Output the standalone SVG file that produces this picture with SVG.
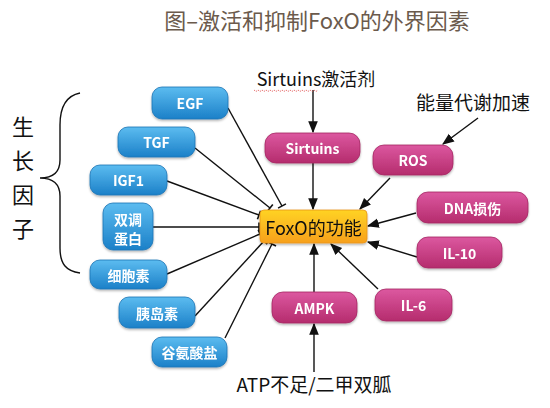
<svg xmlns="http://www.w3.org/2000/svg" width="550" height="408" viewBox="0 0 550 408">
<style>
.t{font-family:"Noto Sans CJK SC","Noto Sans",sans-serif}
.lbl{font-family:"Noto Sans CJK SC","Noto Sans",sans-serif;font-size:14px;font-weight:bold;fill:#fff;text-anchor:middle;dominant-baseline:central}
.blue{fill:url(#gb);stroke:#1b74b5;stroke-width:0.8}
.pink{fill:url(#gp);stroke:#a42763;stroke-width:0.8}
.c{stroke:#111;stroke-width:1.4;fill:none}
.inh{marker-end:url(#tbar)}
.act{marker-end:url(#arr)}
</style>
<defs>
<linearGradient id="gb" x1="0" y1="0" x2="0" y2="1"><stop offset="0" stop-color="#5cbcf0"/><stop offset="1" stop-color="#1b80c8"/></linearGradient>
<linearGradient id="gp" x1="0" y1="0" x2="0" y2="1"><stop offset="0" stop-color="#dc58a0"/><stop offset="1" stop-color="#b52c6d"/></linearGradient>
<linearGradient id="go" x1="0" y1="0" x2="0" y2="1"><stop offset="0" stop-color="#ffd324"/><stop offset="1" stop-color="#f7a01c"/></linearGradient>
<filter id="sh" x="-20%" y="-20%" width="140%" height="150%"><feDropShadow dx="0" dy="1.5" stdDeviation="1.2" flood-color="#000" flood-opacity="0.3"/></filter>
<marker id="arr" markerUnits="userSpaceOnUse" markerWidth="12" markerHeight="12" viewBox="0 -5 10 10" refX="9" refY="0" orient="auto"><path d="M0,-4 L10,0 L0,4 Z" fill="#111"/></marker>
<marker id="tbar" markerUnits="userSpaceOnUse" markerWidth="12" markerHeight="12" viewBox="-2 -6 4 12" refX="0" refY="0" orient="auto"><path d="M0,-4.5 L0,4.5" stroke="#111" stroke-width="1.6"/></marker>
</defs>
<rect width="550" height="408" fill="#fff"/>
<text class="t" x="317" y="29" font-size="22" fill="#6b5a4c" text-anchor="middle">图–激活和抑制FoxO的外界因素</text>

<g id="growth-factor-label">
<text class="t" font-size="22" fill="#111" text-anchor="middle" x="23" y="135">生</text>
<text class="t" font-size="22" fill="#111" text-anchor="middle" x="23" y="169">长</text>
<text class="t" font-size="22" fill="#111" text-anchor="middle" x="23" y="203">因</text>
<text class="t" font-size="22" fill="#111" text-anchor="middle" x="23" y="237">子</text>
<path d="M80,93 C65,96 60,108 60,125 L60,160 C60,172 53,178 40,178 C53,178 60,184 60,196 L60,248 C60,264 66,271 80,273" fill="none" stroke="#111" stroke-width="1.4"/>
</g>

<g id="connectors">
<path class="c inh" d="M228,108 L282,206"/>
<path class="c inh" d="M195,148 L270,208"/>
<path class="c inh" d="M167,181 L259,215"/>
<path class="c inh" d="M153,227 L259,227"/>
<path class="c inh" d="M167,274 L260,234"/>
<path class="c inh" d="M195,316 L264,241"/>
<path class="c inh" d="M225,338 L272,244"/>
<path class="c act" d="M313,90 L313,132"/>
<path class="c act" d="M313,163 L313,209"/>
<path class="c act" d="M478,118 L443,144"/>
<path class="c act" d="M390,178 L360,209"/>
<path class="c act" d="M416,213 L368,226"/>
<path class="c act" d="M417,257 L368,242"/>
<path class="c act" d="M378,289 L331,244"/>
<path class="c act" d="M314,292 L314,244"/>
<path class="c act" d="M314,372 L314,324"/>
</g>

<g id="sirtuins-activator"><text class="t" x="316" y="86" font-size="18" fill="#111" text-anchor="middle">Sirtuins激活剂</text>
<path d="M254,90 l2,1.5 l2,-1.5 l2,1.5 l2,-1.5 l2,1.5 l2,-1.5 l2,1.5 l2,-1.5 l2,1.5 l2,-1.5 l2,1.5 l2,-1.5 l2,1.5 l2,-1.5 l2,1.5 l2,-1.5 l2,1.5 l2,-1.5 l2,1.5 l2,-1.5 l2,1.5 l2,-1.5 l2,1.5 l2,-1.5 l2,1.5 l2,-1.5 l2,1.5 l2,-1.5 l2,1.5 l2,-1.5 l2,1.5 l2,-1.5" fill="none" stroke="#e05050" stroke-width="0.8" stroke-dasharray="1.5,1"/></g>
<g id="energy"><text class="t" x="473" y="110" font-size="19" fill="#111" text-anchor="middle">能量代谢加速</text></g>
<g id="atp"><text class="t" x="314" y="392" font-size="19" fill="#111" text-anchor="middle">ATP不足/二甲双胍</text></g>

<g id="egf" filter="url(#sh)"><rect class="blue" x="152" y="87" width="76" height="32" rx="10"/><text class="lbl" x="190" y="103">EGF</text></g>
<g id="tgf" filter="url(#sh)"><rect class="blue" x="118" y="127" width="77" height="30" rx="10"/><text class="lbl" x="156.5" y="142">TGF</text></g>
<g id="igf1" filter="url(#sh)"><rect class="blue" x="90" y="165" width="77" height="30" rx="10"/><text class="lbl" x="128.5" y="180">IGF1</text></g>
<g id="amphiregulin" filter="url(#sh)"><rect class="blue" x="103" y="203" width="50" height="47" rx="10"/><text class="lbl" x="128" y="219" font-size="15">双调</text><text class="lbl" x="128" y="238" font-size="15">蛋白</text></g>
<g id="cytokine" filter="url(#sh)"><rect class="blue" x="90" y="260" width="77" height="29" rx="10"/><text class="lbl" x="128.5" y="274.5" font-size="15">细胞素</text></g>
<g id="insulin" filter="url(#sh)"><rect class="blue" x="119" y="297" width="76" height="31" rx="10"/><text class="lbl" x="157" y="312.5" font-size="15">胰岛素</text></g>
<g id="glutamate" filter="url(#sh)"><rect class="blue" x="152" y="337" width="75" height="30" rx="10"/><text class="lbl" x="189.5" y="352" font-size="15">谷氨酸盐</text></g>

<g id="sirtuins" filter="url(#sh)"><rect class="pink" x="265" y="133" width="95" height="30" rx="11"/><text class="lbl" x="312.5" y="148">Sirtuins</text></g>
<g id="ros" filter="url(#sh)"><rect class="pink" x="373" y="145" width="80" height="30" rx="11"/><text class="lbl" x="413" y="160">ROS</text></g>
<g id="dna" filter="url(#sh)"><rect class="pink" x="417" y="192" width="111" height="31" rx="11"/><text class="lbl" x="472.5" y="207.5" font-size="15">DNA损伤</text></g>
<g id="il10" filter="url(#sh)"><rect class="pink" x="417" y="237" width="85" height="31" rx="11"/><text class="lbl" x="459.5" y="252.5">IL-10</text></g>
<g id="il6" filter="url(#sh)"><rect class="pink" x="375" y="289" width="77" height="32" rx="11"/><text class="lbl" x="413.5" y="305">IL-6</text></g>
<g id="ampk" filter="url(#sh)"><rect class="pink" x="272" y="292" width="85" height="31" rx="11"/><text class="lbl" x="314.5" y="307.5">AMPK</text></g>

<g id="foxo" filter="url(#sh)"><rect x="260" y="210" width="107" height="33" rx="4" fill="url(#go)" stroke="#e8961a" stroke-width="0.8"/><text class="t" x="313.5" y="226.5" font-size="18" fill="#111" text-anchor="middle" dominant-baseline="central">FoxO的功能</text></g>
</svg>
